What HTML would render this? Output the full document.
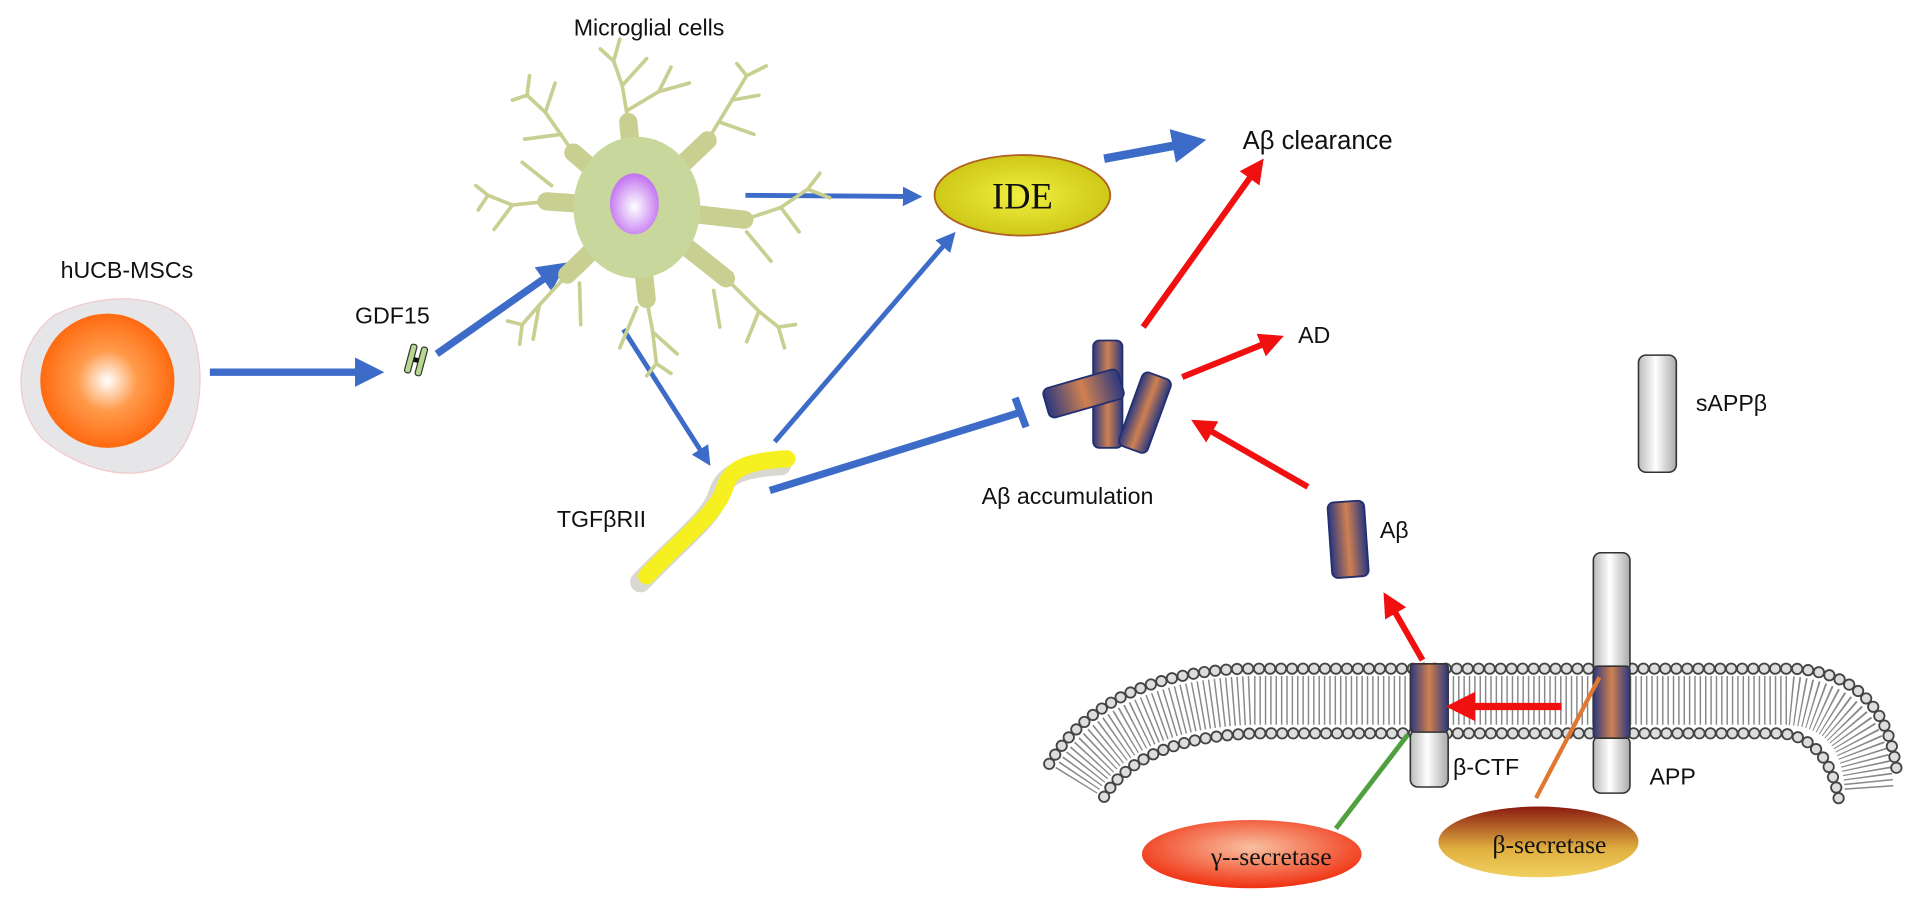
<!DOCTYPE html>
<html><head><meta charset="utf-8"><style>
html,body{margin:0;padding:0;background:#fff;overflow:hidden;}
svg{display:block;}
text{font-family:"Liberation Sans",sans-serif;fill:#111;}
</style></head><body>
<svg width="1913" height="903" viewBox="0 0 1568 740" xmlns="http://www.w3.org/2000/svg">
<defs>
<radialGradient id="org" cx="0.5" cy="0.5" r="0.5"><stop offset="0" stop-color="#fff"/><stop offset="0.45" stop-color="#ff9a4a"/><stop offset="1" stop-color="#ff6a10"/></radialGradient>
<radialGradient id="nuc" cx="0.5" cy="0.55" r="0.55"><stop offset="0" stop-color="#fff"/><stop offset="1" stop-color="#c070f0"/></radialGradient>
<radialGradient id="ide" cx="0.5" cy="0.5" r="0.6"><stop offset="0" stop-color="#f0f040"/><stop offset="1" stop-color="#c8c010"/></radialGradient>
<radialGradient id="gam" cx="0.5" cy="0.4" r="0.6"><stop offset="0" stop-color="#f8c0a0"/><stop offset="1" stop-color="#f03010"/></radialGradient>
<linearGradient id="bet" x1="0" y1="0" x2="0" y2="1"><stop offset="0" stop-color="#8a1a10"/><stop offset="0.6" stop-color="#e0b040"/><stop offset="1" stop-color="#f0d060"/></linearGradient>
<linearGradient id="ab" x1="0" y1="0" x2="1" y2="0"><stop offset="0" stop-color="#2a3880"/><stop offset="0.5" stop-color="#d08050"/><stop offset="1" stop-color="#2a3880"/></linearGradient>
<linearGradient id="wc" x1="0" y1="0" x2="1" y2="0"><stop offset="0" stop-color="#bbb"/><stop offset="0.45" stop-color="#fff"/><stop offset="1" stop-color="#aaa"/></linearGradient>
<marker id="ab1" markerWidth="4" markerHeight="4" refX="2" refY="2" orient="auto" markerUnits="strokeWidth"><path d="M0,0 L4,2 L0,4 z" fill="#3c6cc8"/></marker>
<marker id="ar" markerWidth="4" markerHeight="4" refX="2" refY="2" orient="auto" markerUnits="strokeWidth"><path d="M0,0 L4,2 L0,4 z" fill="#f01010"/></marker>
</defs>

<text x="104" y="228" font-size="19" text-anchor="middle">hUCB-MSCs</text>
<path d="M45,258 C85,238 140,240 157,270 C170,305 165,355 140,378 C110,398 65,385 35,360 C8,330 12,282 45,258 Z" fill="#e6e6e8" stroke="#f2c8c8" stroke-width="1"/>
<circle cx="88" cy="312" r="55" fill="url(#org)"/>

<g stroke="#3c6cc8" fill="none">
<line x1="172" y1="305" x2="303" y2="305" stroke-width="6" marker-end="url(#ab1)"/>
<line x1="358" y1="290" x2="455" y2="222" stroke-width="6" marker-end="url(#ab1)"/>
<line x1="611" y1="160" x2="748" y2="161" stroke-width="4" marker-end="url(#ab1)"/>
<line x1="905" y1="130" x2="975" y2="117" stroke-width="7" marker-end="url(#ab1)"/>
<line x1="511" y1="270" x2="578" y2="375" stroke-width="4" marker-end="url(#ab1)"/>
<line x1="635" y1="362" x2="778" y2="196" stroke-width="4" marker-end="url(#ab1)"/>
<line x1="631" y1="402" x2="836" y2="338" stroke-width="6"/>
<line x1="832" y1="326" x2="841" y2="350" stroke-width="6"/>
</g>

<text x="291" y="265" font-size="19">GDF15</text>
<g transform="translate(341,295) rotate(15)">
<rect x="-7" y="-12" width="5" height="24" rx="2" fill="#b8d890" stroke="#333" stroke-width="1"/>
<rect x="2" y="-12" width="5" height="24" rx="2" fill="#b8d890" stroke="#333" stroke-width="1"/>
<rect x="-2" y="-2" width="4" height="4" fill="#111"/>
</g>

<text x="532" y="29" font-size="19" text-anchor="middle">Microglial cells</text>
<g stroke="#c8cf90" fill="none" stroke-linecap="round">
<g stroke-width="15">
<line x1="522" y1="170" x2="515" y2="100"/><line x1="522" y1="170" x2="470" y2="125"/><line x1="522" y1="170" x2="580" y2="115"/>
<line x1="522" y1="170" x2="610" y2="180"/><line x1="522" y1="170" x2="595" y2="228"/><line x1="522" y1="170" x2="530" y2="245"/>
<line x1="522" y1="170" x2="465" y2="225"/><line x1="522" y1="170" x2="448" y2="165"/>
</g>
<g stroke-width="3">
<path d="M515,100 L510,70 L503,50 M510,70 L530,48 M503,50 L492,40 M503,50 L508,32 M515,90 L540,75 L550,55 M540,75 L565,68"/>
<path d="M470,125 L447,92 L432,78 M447,92 L455,68 M432,78 L420,82 M432,78 L434,62 M460,110 L430,114"/>
<path d="M580,115 L600,82 L612,62 M600,82 L622,78 M612,62 L604,52 M612,62 L628,54 M590,100 L618,110"/>
<path d="M610,180 L640,170 L662,155 M640,170 L655,190 M662,155 L672,142 M662,155 L680,162 M612,190 L632,214"/>
<path d="M595,228 L622,255 L638,268 M622,255 L612,280 M638,268 L652,266 M638,268 L643,285 M585,238 L590,268"/>
<path d="M530,245 L535,272 L538,298 M535,272 L555,290 M538,298 L530,308 M538,298 L550,306 M522,252 L508,285"/>
<path d="M465,225 L442,250 L428,266 M442,250 L437,278 M428,266 L416,263 M428,266 L426,282 M475,232 L476,266"/>
<path d="M448,165 L420,168 L400,160 M420,168 L405,188 M400,160 L390,152 M400,160 L392,172 M452,152 L428,133"/>
</g>
</g>
<ellipse cx="522" cy="170" rx="52" ry="58" fill="#c8d89c"/>
<ellipse cx="520" cy="167" rx="20" ry="25" fill="url(#nuc)"/>

<ellipse cx="838" cy="160" rx="72" ry="33" fill="url(#ide)" stroke="#b06020" stroke-width="1.5"/>
<text x="838" y="171" font-size="30" text-anchor="middle" style="font-family:'Liberation Serif',serif">IDE</text>
<text x="1080" y="122" font-size="21" text-anchor="middle">Aβ clearance</text>

<text x="493" y="432" font-size="19" text-anchor="middle">TGFβRII</text>
<path d="M530,472 C560,440 588,420 594,400 C598,386 608,378 645,376" stroke="#d8d8d0" stroke-width="17" fill="none" stroke-linecap="round" transform="translate(-5,5)"/>
<path d="M530,472 C560,440 588,420 594,400 C598,386 608,378 645,376" stroke="#f6f020" stroke-width="14" fill="none" stroke-linecap="round"/>

<g stroke="#223070" stroke-width="1.5">
<rect x="896" y="279" width="24" height="88" rx="5" fill="url(#ab)"/>
<rect x="-32" y="-12" width="64" height="25" rx="5" fill="url(#ab)" transform="translate(888,322) rotate(-16)"/>
<rect x="-12" y="-32" width="25" height="64" rx="5" fill="url(#ab)" transform="translate(938,338) rotate(20)"/>
<rect x="1090" y="411" width="30" height="62" rx="5" fill="url(#ab)" transform="rotate(-4 1105 442)"/>
</g>
<text x="875" y="413" font-size="19" text-anchor="middle">Aβ accumulation</text>
<text x="1131" y="441" font-size="19">Aβ</text>
<text x="1064" y="281" font-size="19">AD</text>

<g stroke="#f01010" stroke-width="5" fill="none">
<line x1="937" y1="268" x2="1030" y2="138" marker-end="url(#ar)"/>
<line x1="969" y1="309" x2="1043" y2="279" marker-end="url(#ar)"/>
<line x1="1072" y1="399" x2="985" y2="349" marker-end="url(#ar)"/>
<line x1="1166" y1="541" x2="1139" y2="494" marker-end="url(#ar)"/>
</g>

<rect x="1343" y="291" width="31" height="96" rx="6" fill="url(#wc)" stroke="#333" stroke-width="1.3"/>
<text x="1390" y="337" font-size="19">sAPPβ</text>

<g fill="none">
<path d="M882,640 Q920,578 1025,574 L1465,574 Q1528,578 1532,647" stroke="#888" stroke-width="40" stroke-dasharray="1.2 3.2"/>
<path d="M860,626 Q905,552 1020,548 L1470,548 Q1545,552 1555,634" stroke="#444" stroke-width="10" stroke-dasharray="0 9" stroke-linecap="round"/>
<path d="M860,626 Q905,552 1020,548 L1470,548 Q1545,552 1555,634" stroke="#ddd" stroke-width="7" stroke-dasharray="0 9" stroke-linecap="round"/>
<path d="M905,653 Q935,604 1030,601 L1460,601 Q1500,605 1508,660" stroke="#444" stroke-width="10" stroke-dasharray="0 9" stroke-linecap="round"/>
<path d="M905,653 Q935,604 1030,601 L1460,601 Q1500,605 1508,660" stroke="#ddd" stroke-width="7" stroke-dasharray="0 9" stroke-linecap="round"/>
</g>

<g stroke="#333" stroke-width="1.3">
<rect x="1306" y="453" width="30" height="98" rx="6" fill="url(#wc)"/>
<rect x="1306" y="603" width="30" height="47" rx="6" fill="url(#wc)"/>
<rect x="1306" y="546" width="30" height="59" rx="3" fill="url(#ab)"/>
<rect x="1156" y="598" width="31" height="47" rx="6" fill="url(#wc)"/>
<rect x="1156" y="544" width="31" height="56" rx="3" fill="url(#ab)"/>
</g>
<text x="1352" y="643" font-size="19">APP</text>
<text x="1191" y="635" font-size="19">β-CTF</text>
<line x1="1280" y1="579" x2="1197" y2="579" stroke="#f01010" stroke-width="6" marker-end="url(#ar)"/>
<line x1="1154" y1="602" x2="1095" y2="679" stroke="#50a040" stroke-width="4"/>
<line x1="1311" y1="555" x2="1259" y2="654" stroke="#e07830" stroke-width="3.5"/>

<ellipse cx="1026" cy="700" rx="90" ry="28" fill="url(#gam)"/>
<text x="1042" y="709" font-size="21" text-anchor="middle" style="font-family:'Liberation Serif',serif">γ--secretase</text>
<ellipse cx="1261" cy="690" rx="82" ry="29" fill="url(#bet)"/>
<text x="1270" y="699" font-size="21" text-anchor="middle" style="font-family:'Liberation Serif',serif">β-secretase</text>
</svg>
</body></html>
